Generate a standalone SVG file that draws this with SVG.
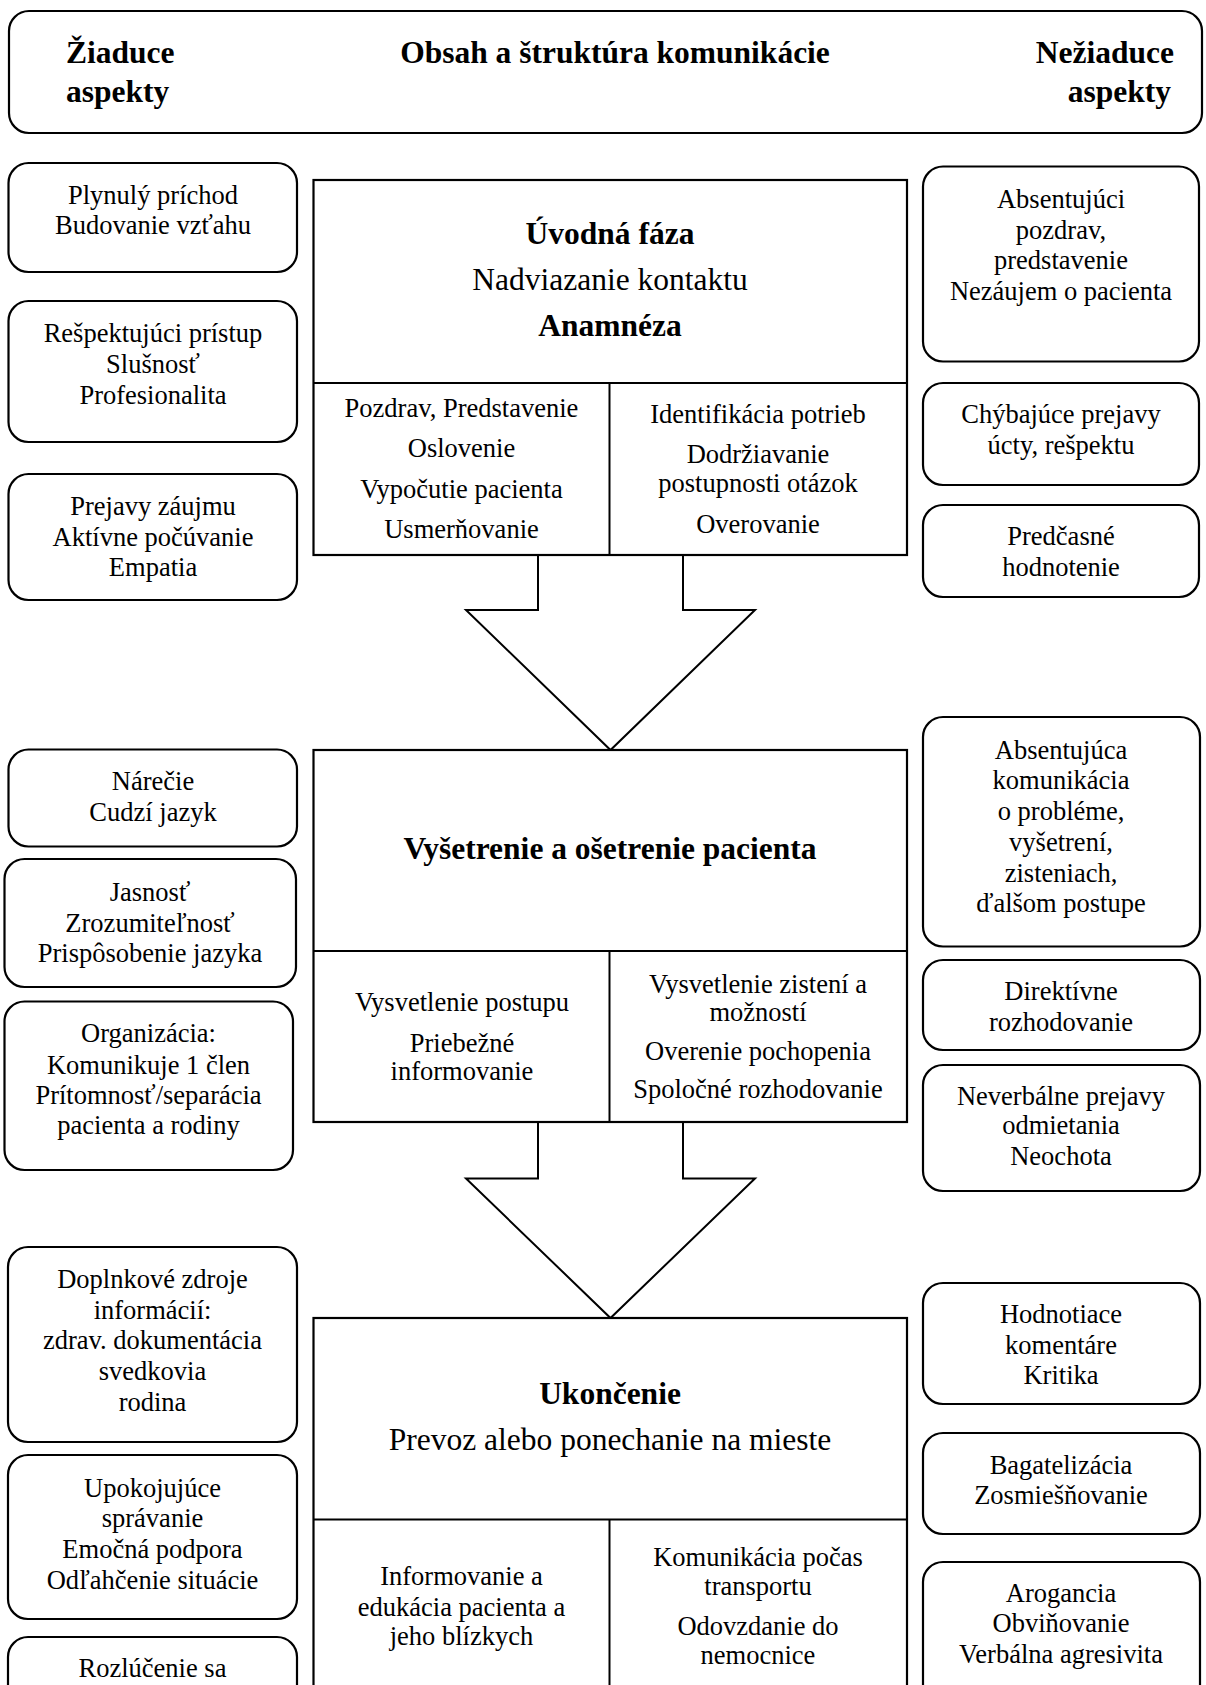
<svg xmlns="http://www.w3.org/2000/svg" width="1206" height="1685" viewBox="0 0 1206 1685">
<style>
  .rb { fill: #fff; stroke: #000; stroke-width: 2.2; }
  .mb { fill: #fff; stroke: #000; stroke-width: 2.2; }
  .ln { stroke: #000; stroke-width: 2; fill: none; }
  .ar { fill: #fff; stroke: #000; stroke-width: 2; stroke-linejoin: miter; }
  text { font-family: "Liberation Serif", "Times New Roman", serif; fill: #000; }
  .t { font-size: 26.5px; text-anchor: middle; }
  .m { font-size: 31.5px; text-anchor: middle; }
  .b { font-weight: bold; }
  .h { font-size: 31.5px; font-weight: bold; }
</style>
<rect width="1206" height="1685" fill="#fff"/>

<g id="header">
  <rect class="rb" x="9" y="11" width="1193" height="122" rx="20" ry="20"/>
  <text class="h" x="66" y="63">Žiaduce</text>
  <text class="h" x="66" y="102">aspekty</text>
  <text class="h" x="615" y="63" text-anchor="middle">Obsah a štruktúra komunikácie</text>
  <text class="h" x="1174" y="63" text-anchor="end">Nežiaduce</text>
  <text class="h" x="1171" y="102" text-anchor="end">aspekty</text>
</g>

<g id="connectors">
  <path class="ar" d="M538,555 L538,610 L466,610 L610.5,750 L755,610 L683,610 L683,555"/>
  <path class="ar" d="M538,1122 L538,1178.5 L466,1178.5 L610.5,1318 L755,1178.5 L683,1178.5 L683,1122"/>
</g>

<!-- Phase 1 -->
<g id="phase1">
  <rect class="mb" x="313.5" y="180" width="593.5" height="375"/>
  <line class="ln" x1="313.5" y1="383" x2="907" y2="383"/>
  <line class="ln" x1="609.5" y1="383" x2="609.5" y2="555"/>
  <text class="m b" x="610" y="244">Úvodná fáza</text>
  <text class="m" x="610" y="290">Nadviazanie kontaktu</text>
  <text class="m b" x="610" y="336">Anamnéza</text>
  <text class="t" x="461.5" y="417">Pozdrav, Predstavenie</text>
  <text class="t" x="461.5" y="457">Oslovenie</text>
  <text class="t" x="461.5" y="498">Vypočutie pacienta</text>
  <text class="t" x="461.5" y="538">Usmerňovanie</text>
  <text class="t" x="758" y="423">Identifikácia potrieb</text>
  <text class="t" x="758" y="463">Dodržiavanie</text>
  <text class="t" x="758" y="492">postupnosti otázok</text>
  <text class="t" x="758" y="533">Overovanie</text>
</g>

<g id="l1">
  <rect class="rb" x="8.5" y="163" width="288.5" height="109" rx="20"/>
  <text class="t" x="153" y="204">Plynulý príchod</text>
  <text class="t" x="153" y="234">Budovanie vzťahu</text>
</g>
<g id="l2">
  <rect class="rb" x="8.5" y="301" width="288.5" height="141" rx="20"/>
  <text class="t" x="153" y="342">Rešpektujúci prístup</text>
  <text class="t" x="153" y="373">Slušnosť</text>
  <text class="t" x="153" y="404">Profesionalita</text>
</g>
<g id="l3">
  <rect class="rb" x="8.5" y="474" width="288.5" height="126" rx="20"/>
  <text class="t" x="153" y="515">Prejavy záujmu</text>
  <text class="t" x="153" y="546">Aktívne počúvanie</text>
  <text class="t" x="153" y="576">Empatia</text>
</g>

<g id="r1">
  <rect class="rb" x="923" y="166.5" width="276" height="195" rx="20"/>
  <text class="t" x="1061" y="208">Absentujúci</text>
  <text class="t" x="1061" y="238.5">pozdrav,</text>
  <text class="t" x="1061" y="268.5">predstavenie</text>
  <text class="t" x="1061" y="300">Nezáujem o pacienta</text>
</g>
<g id="r2">
  <rect class="rb" x="923" y="383" width="276" height="102" rx="20"/>
  <text class="t" x="1061" y="423">Chýbajúce prejavy</text>
  <text class="t" x="1061" y="454">úcty, rešpektu</text>
</g>
<g id="r3">
  <rect class="rb" x="923" y="505" width="276" height="92" rx="20"/>
  <text class="t" x="1061" y="545">Predčasné</text>
  <text class="t" x="1061" y="576">hodnotenie</text>
</g>

<!-- Phase 2 -->
<g id="phase2">
  <rect class="mb" x="313.5" y="750" width="593.5" height="372"/>
  <line class="ln" x1="313.5" y1="951" x2="907" y2="951"/>
  <line class="ln" x1="609.5" y1="951" x2="609.5" y2="1122"/>
  <text class="m b" x="610" y="859">Vyšetrenie a ošetrenie pacienta</text>
  <text class="t" x="462" y="1011">Vysvetlenie postupu</text>
  <text class="t" x="462" y="1051.5">Priebežné</text>
  <text class="t" x="462" y="1080">informovanie</text>
  <text class="t" x="758" y="993">Vysvetlenie zistení a</text>
  <text class="t" x="758" y="1021">možností</text>
  <text class="t" x="758" y="1060">Overenie pochopenia</text>
  <text class="t" x="758" y="1098">Spoločné rozhodovanie</text>
</g>

<g id="l4">
  <rect class="rb" x="8.5" y="749.5" width="288.5" height="97" rx="20"/>
  <text class="t" x="153" y="790">Nárečie</text>
  <text class="t" x="153" y="821">Cudzí jazyk</text>
</g>
<g id="l5">
  <rect class="rb" x="4.5" y="859" width="291.5" height="128" rx="20"/>
  <text class="t" x="150" y="901">Jasnosť</text>
  <text class="t" x="150" y="931.5">Zrozumiteľnosť</text>
  <text class="t" x="150" y="962">Prispôsobenie jazyka</text>
</g>
<g id="l6">
  <rect class="rb" x="4.5" y="1001.5" width="288.5" height="168.5" rx="20"/>
  <text class="t" x="148.5" y="1042">Organizácia:</text>
  <text class="t" x="148.5" y="1073.5">Komunikuje 1 člen</text>
  <text class="t" x="148.5" y="1103.5">Prítomnosť/separácia</text>
  <text class="t" x="148.5" y="1134">pacienta a rodiny</text>
</g>

<g id="r4">
  <rect class="rb" x="923" y="717" width="277" height="229.5" rx="20"/>
  <text class="t" x="1061" y="758.5">Absentujúca</text>
  <text class="t" x="1061" y="789">komunikácia</text>
  <text class="t" x="1061" y="820">o probléme,</text>
  <text class="t" x="1061" y="851">vyšetrení,</text>
  <text class="t" x="1061" y="881.5">zisteniach,</text>
  <text class="t" x="1061" y="912">ďalšom postupe</text>
</g>
<g id="r5">
  <rect class="rb" x="923" y="960" width="277" height="90" rx="20"/>
  <text class="t" x="1061" y="1000">Direktívne</text>
  <text class="t" x="1061" y="1031">rozhodovanie</text>
</g>
<g id="r6">
  <rect class="rb" x="923" y="1065" width="277" height="126" rx="20"/>
  <text class="t" x="1061" y="1105">Neverbálne prejavy</text>
  <text class="t" x="1061" y="1134">odmietania</text>
  <text class="t" x="1061" y="1165">Neochota</text>
</g>

<!-- Phase 3 -->
<g id="phase3">
  <rect class="mb" x="313.5" y="1318" width="593.5" height="400"/>
  <line class="ln" x1="313.5" y1="1519.5" x2="907" y2="1519.5"/>
  <line class="ln" x1="609.5" y1="1519.5" x2="609.5" y2="1700"/>
  <text class="m b" x="610" y="1404">Ukončenie</text>
  <text class="m" x="610" y="1450">Prevoz alebo ponechanie na mieste</text>
  <text class="t" x="461.5" y="1585">Informovanie a</text>
  <text class="t" x="461.5" y="1616">edukácia pacienta a</text>
  <text class="t" x="461.5" y="1644.5">jeho blízkych</text>
  <text class="t" x="758" y="1566">Komunikácia počas</text>
  <text class="t" x="758" y="1594.5">transportu</text>
  <text class="t" x="758" y="1635">Odovzdanie do</text>
  <text class="t" x="758" y="1664">nemocnice</text>
</g>

<g id="l7">
  <rect class="rb" x="8" y="1247" width="289" height="195" rx="20"/>
  <text class="t" x="152.5" y="1288">Doplnkové zdroje</text>
  <text class="t" x="152.5" y="1318.5">informácií:</text>
  <text class="t" x="152.5" y="1349">zdrav. dokumentácia</text>
  <text class="t" x="152.5" y="1380">svedkovia</text>
  <text class="t" x="152.5" y="1411">rodina</text>
</g>
<g id="l8">
  <rect class="rb" x="8" y="1455" width="289" height="164" rx="20"/>
  <text class="t" x="152.5" y="1496.5">Upokojujúce</text>
  <text class="t" x="152.5" y="1527">správanie</text>
  <text class="t" x="152.5" y="1558">Emočná podpora</text>
  <text class="t" x="152.5" y="1589">Odľahčenie situácie</text>
</g>
<g id="l9">
  <rect class="rb" x="8" y="1637" width="289" height="100" rx="20"/>
  <text class="t" x="152.5" y="1677">Rozlúčenie sa</text>
</g>

<g id="r7">
  <rect class="rb" x="923" y="1283" width="277" height="121" rx="20"/>
  <text class="t" x="1061" y="1323">Hodnotiace</text>
  <text class="t" x="1061" y="1353.5">komentáre</text>
  <text class="t" x="1061" y="1384">Kritika</text>
</g>
<g id="r8">
  <rect class="rb" x="923" y="1433" width="277" height="101" rx="20"/>
  <text class="t" x="1061" y="1473.5">Bagatelizácia</text>
  <text class="t" x="1061" y="1504">Zosmiešňovanie</text>
</g>
<g id="r9">
  <rect class="rb" x="923" y="1562" width="277" height="160" rx="20"/>
  <text class="t" x="1061" y="1602">Arogancia</text>
  <text class="t" x="1061" y="1632">Obviňovanie</text>
  <text class="t" x="1061" y="1663">Verbálna agresivita</text>
</g>
</svg>
